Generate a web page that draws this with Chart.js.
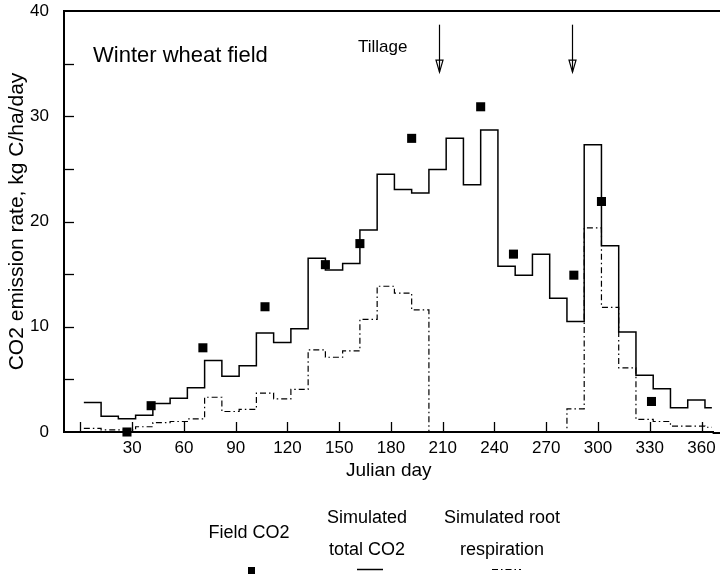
<!DOCTYPE html>
<html><head><meta charset="utf-8">
<script src="https://cdn.jsdelivr.net/npm/chart.js@4.4.1/dist/chart.umd.min.js"></script>
<style>html,body{margin:0;padding:0;background:#fff}#wrap{position:relative;width:720px;height:575px}</style>
</head><body><div id="wrap"><canvas id="c"></canvas></div>
<script>
// ---- data ----
const stepDays = [2,12,22,32,42,52,62,72,82,92,102,112,122,132,142,152,162,172,182,192,202,212,222,232,242,252,262,272,282,292,302,312,322,332,342,352,362,366];
const totalCO2 = [2.8,1.5,1.25,1.6,2.7,3.2,4.2,6.8,5.3,6.3,9.4,8.5,9.8,16.5,15.4,16.0,19.2,24.5,23.05,22.7,24.95,27.9,23.5,28.7,15.75,14.9,16.9,12.7,10.5,27.3,17.7,9.5,5.4,4.1,2.3,3.05,2.3,2.3];
const rootResp = [0.35,0.2,0.2,0.5,0.9,1.0,1.25,3.3,1.95,2.15,3.7,3.15,4.05,7.8,7.1,7.7,10.7,13.85,13.2,11.6,0,0,0,0,0,0,0,0,2.2,19.4,11.85,6.1,1.2,1.0,0.55,0.55,0.45,0.45];
const fieldDays = [27,41,71,107,142,162,192,232,251,286,302,331];
const fieldCO2 = [0.0,2.5,8.0,11.9,15.9,17.9,27.9,30.9,16.9,14.9,21.9,2.9];
const xTickValues = [0,30,60,90,120,150,180,210,240,270,300,330,360];
const yTickValues = [0,5,10,15,20,25,30,35,40];
const tillageDays = [208,285];
const seriesNames = ['Field CO2','Simulated total CO2','Simulated root respiration'];

// ---- styles ----
const SANS = "'Liberation Sans', Arial, sans-serif";
const INK = '#000';

// each value holds from its day until the next listed day
const toXY = (xs, ys) => xs.map((x, i) => ({x, y: ys[i]}));

const decor = {
  id: 'decor',
  afterDraw(chart) {
    const {ctx, chartArea: a, scales: {x, y}, width: W} = chart;
    ctx.save();
    ctx.strokeStyle = INK; ctx.fillStyle = INK;
    // frame lines continue to the right edge of the picture
    ctx.lineWidth = 2;
    ctx.beginPath(); ctx.moveTo(a.left - 1, a.top); ctx.lineTo(W, a.top); ctx.stroke();
    ctx.beginPath(); ctx.moveTo(a.right - 1, a.bottom + 1); ctx.lineTo(W, a.bottom + 1); ctx.stroke();
    // inner tick marks
    ctx.lineWidth = 1.3;
    y.ticks.forEach(t => {
      if (t.value <= 0 || t.value >= 40) return;
      const py = Math.round(y.getPixelForValue(t.value)) + 0.5;
      ctx.beginPath(); ctx.moveTo(a.left, py); ctx.lineTo(a.left + 10, py); ctx.stroke();
    });
    x.ticks.forEach(t => {
      const px = Math.round(x.getPixelForValue(t.value)) + 0.5;
      ctx.beginPath(); ctx.moveTo(px, a.bottom); ctx.lineTo(px, a.bottom - 10); ctx.stroke();
    });
    // annotation texts
    ctx.textAlign = 'left'; ctx.textBaseline = 'alphabetic';
    ctx.font = '22px ' + SANS;
    ctx.fillText('Winter wheat field', 93, 62);
    ctx.font = '17px ' + SANS;
    ctx.fillText('Tillage', 358, 52);
    // tillage arrows
    ctx.lineWidth = 1.2;
    tillageDays.forEach(d => {
      const px = Math.round(x.getPixelForValue(d)) + 0.5;
      const top = y.getPixelForValue(38.7), tip = y.getPixelForValue(34.2);
      ctx.beginPath(); ctx.moveTo(px, top); ctx.lineTo(px, tip); ctx.stroke();
      ctx.beginPath();
      ctx.moveTo(px - 3.5, tip - 12); ctx.lineTo(px + 3.5, tip - 12); ctx.lineTo(px, tip); ctx.closePath();
      ctx.stroke();
    });
    // legend
    ctx.textAlign = 'center'; ctx.textBaseline = 'middle';
    ctx.font = '18px ' + SANS;
    ctx.fillText('Field CO2', 249, 533);
    ctx.fillText('Simulated', 367, 518);
    ctx.fillText('total CO2', 367, 550);
    ctx.fillText('Simulated root', 502, 518);
    ctx.fillText('respiration', 502, 550);
    const ds = chart.data.datasets;
    ctx.fillStyle = ds[0].backgroundColor;
    ctx.fillRect(248, 567, 7, 7);
    ctx.strokeStyle = ds[1].borderColor; ctx.lineWidth = ds[1].borderWidth;
    ctx.beginPath(); ctx.moveTo(357, 569.5); ctx.lineTo(383, 569.5); ctx.stroke();
    ctx.strokeStyle = ds[2].borderColor; ctx.lineWidth = ds[2].borderWidth;
    ctx.setLineDash(ds[2].borderDash);
    ctx.beginPath(); ctx.moveTo(492, 569.5); ctx.lineTo(521, 569.5); ctx.stroke();
    ctx.restore();
  }
};

new Chart(document.getElementById('c'), {
  type: 'line',
  data: {
    datasets: [
      {label: seriesNames[0], data: toXY(fieldDays, fieldCO2), showLine: false,
       pointStyle: 'rect', pointRadius: 6.4, backgroundColor: INK, borderColor: INK, borderWidth: 0, clip: false},
      {label: seriesNames[1], data: toXY(stepDays, totalCO2), stepped: 'before',
       borderColor: INK, borderWidth: 1.5, pointRadius: 0, fill: false},
      {label: seriesNames[2], data: toXY(stepDays, rootResp), stepped: 'before',
       borderColor: INK, borderWidth: 1.2, borderDash: [6,3,1.5,3], pointRadius: 0, fill: false}
    ]
  },
  options: {
    responsive: true, maintainAspectRatio: false, animation: false, events: [],
    layout: {padding: {left: 0, right: 0, top: 11, bottom: 93}},
    plugins: {legend: {display: false}, tooltip: {enabled: false}},
    scales: {
      x: {
        type: 'linear', min: -9.5, max: 367,
        afterBuildTicks: s => { s.ticks = xTickValues.map(v => ({value: v})); },
        afterFit: s => { s.height = 50; s.paddingLeft = 0; s.paddingRight = 0; },
        grid: {display: false, drawTicks: false},
        border: {display: true, color: INK, width: 2},
        ticks: {color: INK, font: {family: SANS, size: 17}, padding: 6, maxRotation: 0, autoSkip: false,
                callback: v => v === 0 ? '' : String(v)},
        title: {display: true, text: 'Julian day', color: INK, font: {family: SANS, size: 19}, padding: {top: 0, bottom: 0}}
      },
      y: {
        min: 0, max: 40,
        afterBuildTicks: s => { s.ticks = yTickValues.map(v => ({value: v})); },
        afterFit: s => { s.width = 64; s.paddingTop = 0; s.paddingBottom = 0; },
        grid: {display: false, drawTicks: false},
        border: {display: true, color: INK, width: 2},
        ticks: {color: INK, font: {family: SANS, size: 17}, padding: 15, autoSkip: false,
                callback: v => v % 10 === 0 ? String(v) : ''},
        title: {display: true, text: 'CO2 emission rate, kg C/ha/day', color: INK, font: {family: SANS, size: 21}, padding: {top: 5, bottom: 4}}
      }
    }
  },
  plugins: [decor]
});
</script>
</body></html>
